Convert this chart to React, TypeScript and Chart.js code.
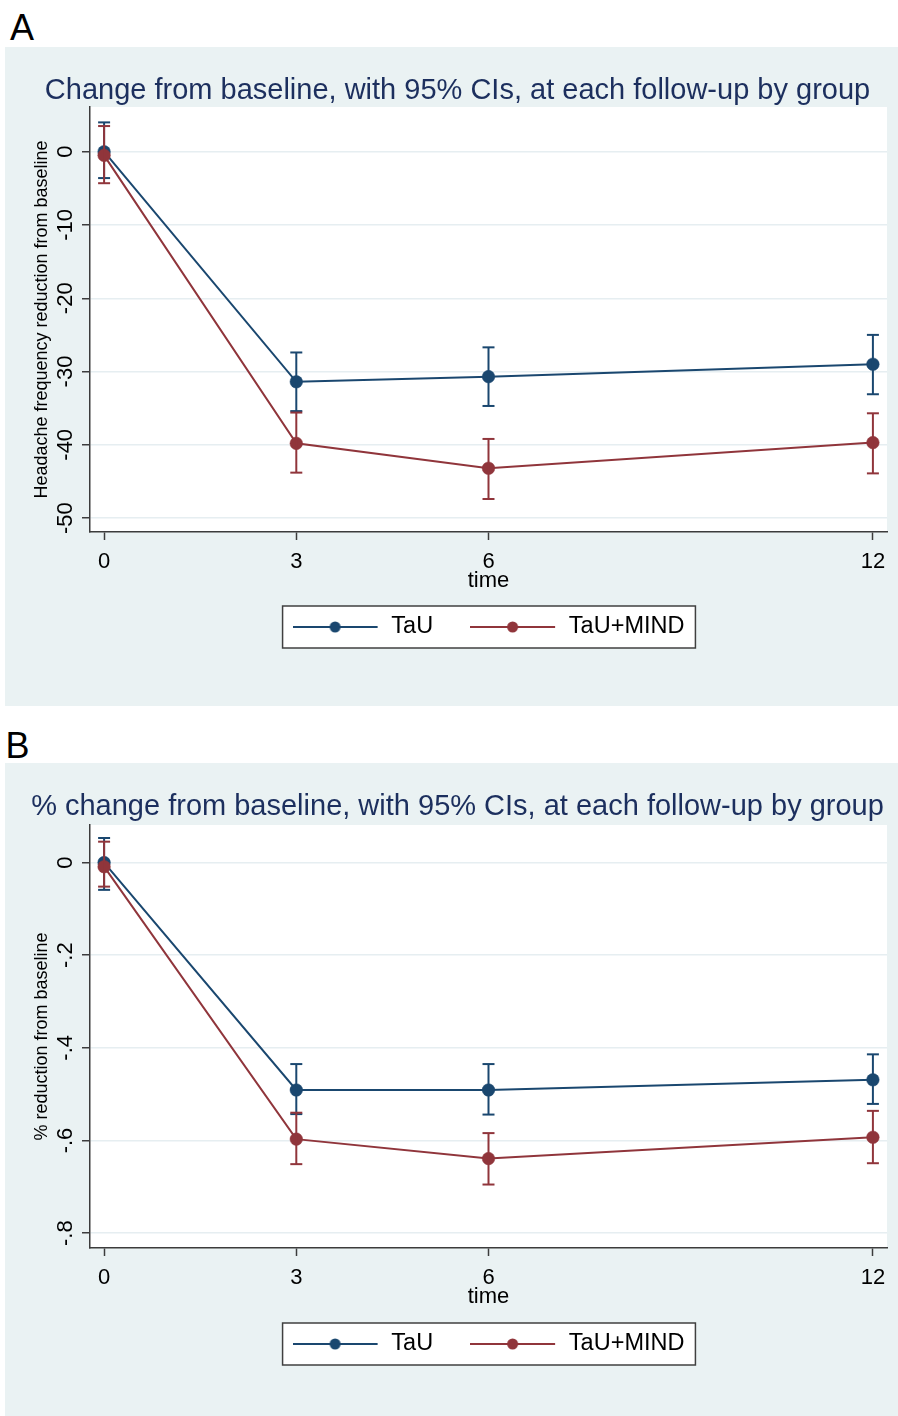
import React, { useEffect, useRef } from "react";
import { Chart, registerables } from "chart.js";

Chart.register(...registerables);

// ---------- data ----------
const timePoints = [0, 3, 6, 12];
const xTickLabels = ["0", "3", "6", "12"];
const seriesNames = ["TaU", "TaU+MIND"];

// Panel A: change from baseline
const yTicksA = [-50, -40, -30, -20, -10, 0];
const yTickLabelsA = ["-50", "-40", "-30", "-20", "-10", "0"];
const tauMeanA = [0, -31.4, -30.7, -29.0];
const tauLowerA = [-3.6, -35.4, -34.7, -33.1];
const tauUpperA = [4.0, -27.4, -26.7, -25.0];
const mindMeanA = [-0.5, -39.8, -43.2, -39.7];
const mindLowerA = [-4.3, -43.8, -47.4, -43.9];
const mindUpperA = [3.5, -35.6, -39.2, -35.7];

// Panel B: % change from baseline
const yTicksB = [-0.8, -0.6, -0.4, -0.2, 0];
const yTickLabelsB = ["-.8", "-.6", "-.4", "-.2", "0"];
const tauMeanB = [0, -0.491, -0.491, -0.469];
const tauLowerB = [-0.059, -0.543, -0.544, -0.521];
const tauUpperB = [0.053, -0.435, -0.435, -0.414];
const mindMeanB = [-0.009, -0.597, -0.639, -0.593];
const mindLowerB = [-0.052, -0.651, -0.695, -0.649];
const mindUpperB = [0.045, -0.54, -0.584, -0.536];

// ---------- styles ----------
const FONT = "'Liberation Sans', Arial, Helvetica, sans-serif";
const NAVY = "#1a476f";
const MAROON = "#90353b";
const PANEL_BG = "#eaf2f3";
const GRID = "#e6eef1";
const AXIS = "#3c3c3c";
const TITLE_COLOR = "#1c2f5e";

type PanelSpec = {
  title: string;
  yTitle: string;
  yMin: number;
  yMax: number;
  yTicks: number[];
  yTickLabels: string[];
  tauMean: number[];
  tauLower: number[];
  tauUpper: number[];
  mindMean: number[];
  mindLower: number[];
  mindUpper: number[];
  height: number;
  titlePadBottom: number;
  yTickPad: number;
  legendPadBottom: number;
  xAxisHeight: number;
  xTitlePadBottom: number;
};

const panelA: PanelSpec = {
  title: "Change from baseline, with 95% CIs, at each follow-up by group",
  yTitle: "Headache frequency reduction from baseline",
  yMin: -51.9,
  yMax: 6.1,
  yTicks: yTicksA,
  yTickLabels: yTickLabelsA,
  tauMean: tauMeanA,
  tauLower: tauLowerA,
  tauUpper: tauUpperA,
  mindMean: mindMeanA,
  mindLower: mindLowerA,
  mindUpper: mindUpperA,
  height: 659,
  titlePadBottom: -1.4,
  yTickPad: 0.6,
  legendPadBottom: 57.25,
  xAxisHeight: 46.25,
  xTitlePadBottom: -15.95,
};

const panelB: PanelSpec = {
  title: "% change from baseline, with 95% CIs, at each follow-up by group",
  yTitle: "% reduction from baseline",
  yMin: -0.832,
  yMax: 0.081,
  yTicks: yTicksB,
  yTickLabels: yTickLabelsB,
  tauMean: tauMeanB,
  tauLower: tauLowerB,
  tauUpper: tauUpperB,
  mindMean: mindMeanB,
  mindLower: mindLowerB,
  mindUpper: mindUpperB,
  height: 653,
  titlePadBottom: 0.6,
  yTickPad: 3.7,
  legendPadBottom: 50.25,
  xAxisHeight: 47.25,
  xTitlePadBottom: -14.95,
};

function legendSymbol(color: string): HTMLCanvasElement {
  const c = document.createElement("canvas");
  c.width = 87;
  c.height = 14;
  const g = c.getContext("2d")!;
  g.strokeStyle = color;
  g.lineWidth = 2;
  g.beginPath();
  g.moveTo(0, 7);
  g.lineTo(85, 7);
  g.stroke();
  g.fillStyle = color;
  g.beginPath();
  g.arc(42.5, 7, 5.5, 0, Math.PI * 2);
  g.fill();
  return c;
}

const panelPlugin = {
  id: "panelBg",
  beforeDraw(chart: any) {
    const { ctx, chartArea, width, height } = chart;
    ctx.save();
    ctx.fillStyle = PANEL_BG;
    ctx.fillRect(0, 0, width, height);
    ctx.fillStyle = "#ffffff";
    ctx.fillRect(chartArea.left, chartArea.top, chartArea.right - chartArea.left, chartArea.bottom - chartArea.top);
    const boxes = chart.legend && chart.legend.legendHitBoxes;
    if (boxes && boxes.length) {
      const first = boxes[0];
      const last = boxes[boxes.length - 1];
      const cy = first.top + first.height / 2;
      const left = first.left - 10;
      const right = last.left + last.width + 11;
      ctx.fillStyle = "#ffffff";
      ctx.fillRect(left, cy - 21, right - left, 42);
      ctx.strokeStyle = "#404040";
      ctx.lineWidth = 1.5;
      ctx.strokeRect(left, cy - 21, right - left, 42);
    }
    ctx.restore();
  },
};

function errorBarSets(lower: number[], upper: number[], color: string, name: string, order: number) {
  return timePoints.map((t, i) => ({
    type: "line" as const,
    label: `${name} CI ${t}`,
    data: [
      { x: t, y: lower[i] },
      { x: t, y: upper[i] },
    ],
    borderColor: color,
    backgroundColor: color,
    borderWidth: 2,
    pointStyle: "line" as const,
    pointRadius: 6,
    pointHoverRadius: 6,
    pointBorderColor: color,
    pointBorderWidth: 2,
    order,
  }));
}

function meanSet(mean: number[], color: string, name: string, order: number) {
  return {
    type: "line" as const,
    label: name,
    data: timePoints.map((t, i) => ({ x: t, y: mean[i] })),
    borderColor: color,
    backgroundColor: color,
    borderWidth: 2,
    pointRadius: 6.3,
    pointHoverRadius: 6.3,
    pointBackgroundColor: color,
    pointBorderColor: color,
    pointBorderWidth: 0.5,
    order,
  };
}

function buildConfig(p: PanelSpec, symBlue: HTMLCanvasElement, symRed: HTMLCanvasElement): any {
  const datasets: any[] = [
    meanSet(p.tauMean, NAVY, seriesNames[0], 4),
    ...errorBarSets(p.tauLower, p.tauUpper, NAVY, seriesNames[0], 3),
    meanSet(p.mindMean, MAROON, seriesNames[1], 2),
    ...errorBarSets(p.mindLower, p.mindUpper, MAROON, seriesNames[1], 1),
  ];
  return {
    type: "line",
    data: { datasets },
    plugins: [panelPlugin],
    options: {
      responsive: false,
      maintainAspectRatio: false,
      animation: false,
      events: [],
      layout: { padding: { left: 23, right: 11, top: 0, bottom: p.legendPadBottom } },
      plugins: {
        tooltip: { enabled: false },
        title: {
          display: true,
          text: p.title,
          color: TITLE_COLOR,
          font: { family: FONT, size: 29, weight: "normal" },
          padding: { top: 26.6, bottom: p.titlePadBottom },
        },
        legend: {
          display: true,
          position: "bottom",
          align: "center",
          fullSize: false,
          labels: {
            usePointStyle: true,
            pointStyleWidth: 87,
            boxHeight: 14,
            padding: 37,
            color: "#000",
            font: { family: FONT, size: 23.5 },
            generateLabels: () => [
              { text: seriesNames[0], pointStyle: symBlue, fillStyle: NAVY, strokeStyle: NAVY, lineWidth: 0, fontColor: "#000", hidden: false, datasetIndex: 0 },
              { text: seriesNames[1], pointStyle: symRed, fillStyle: MAROON, strokeStyle: MAROON, lineWidth: 0, fontColor: "#000", hidden: false, datasetIndex: 5 },
            ],
          },
        },
      },
      scales: {
        x: {
          type: "linear",
          position: "bottom",
          min: -0.22,
          max: 12.22,
          afterBuildTicks: (s: any) => {
            s.ticks = timePoints.map((v) => ({ value: v }));
          },
          afterFit: (s: any) => {
            s.height = p.xAxisHeight;
          },
          ticks: {
            autoSkip: false,
            maxRotation: 0,
            minRotation: 0,
            padding: 8.5,
            color: "#000",
            font: { family: FONT, size: 22 },
            callback: (_v: any, i: number) => xTickLabels[i],
          },
          grid: {
            display: true,
            drawOnChartArea: false,
            drawTicks: true,
            tickLength: 8,
            tickColor: AXIS,
            tickWidth: 1.5,
          },
          border: { display: true, color: AXIS, width: 1.5 },
          title: {
            display: true,
            text: "time",
            color: "#000",
            font: { family: FONT, size: 22 },
            padding: { top: 0, bottom: p.xTitlePadBottom },
          },
        },
        y: {
          type: "linear",
          position: "left",
          min: p.yMin,
          max: p.yMax,
          afterBuildTicks: (s: any) => {
            s.ticks = p.yTicks.map((v) => ({ value: v }));
          },
          afterFit: (s: any) => {
            s.width = 62;
          },
          ticks: {
            autoSkip: false,
            minRotation: 90,
            maxRotation: 90,
            crossAlign: "center",
            padding: p.yTickPad,
            color: "#000",
            font: { family: FONT, size: 22 },
            callback: (_v: any, i: number) => p.yTickLabels[i],
          },
          grid: {
            display: true,
            drawOnChartArea: true,
            color: GRID,
            lineWidth: 1.5,
            drawTicks: true,
            tickLength: 8,
            tickColor: AXIS,
            tickWidth: 1.5,
          },
          border: { display: true, color: AXIS, width: 1.5 },
          title: {
            display: true,
            text: p.yTitle,
            color: "#000",
            font: { family: FONT, size: 18 },
            padding: { top: 3.2, bottom: 0 },
          },
        },
      },
    },
  };
}

export default function App() {
  const refA = useRef<HTMLCanvasElement>(null);
  const refB = useRef<HTMLCanvasElement>(null);

  useEffect(() => {
    const symBlue = legendSymbol(NAVY);
    const symRed = legendSymbol(MAROON);
    const charts: Chart[] = [];
    if (refA.current) charts.push(new Chart(refA.current, buildConfig(panelA, symBlue, symRed)));
    if (refB.current) charts.push(new Chart(refB.current, buildConfig(panelB, symBlue, symRed)));
    return () => charts.forEach((c) => c.destroy());
  }, []);

  const letter: React.CSSProperties = {
    position: "absolute",
    fontFamily: FONT,
    fontSize: 36,
    lineHeight: 1,
    color: "#000",
  };

  return (
    <div style={{ position: "absolute", left: 0, top: 0, width: 898, height: 1416, background: "#fff", overflow: "hidden" }}>
      <div style={{ ...letter, left: 10, top: 10.3 }}>A</div>
      <canvas
        ref={refA}
        width={893}
        height={panelA.height}
        style={{ position: "absolute", left: 5, top: 47, width: 893, height: panelA.height, display: "block" }}
      />
      <div style={{ ...letter, left: 5.5, top: 728.3 }}>B</div>
      <canvas
        ref={refB}
        width={893}
        height={panelB.height}
        style={{ position: "absolute", left: 5, top: 763, width: 893, height: panelB.height, display: "block" }}
      />
    </div>
  );
}
